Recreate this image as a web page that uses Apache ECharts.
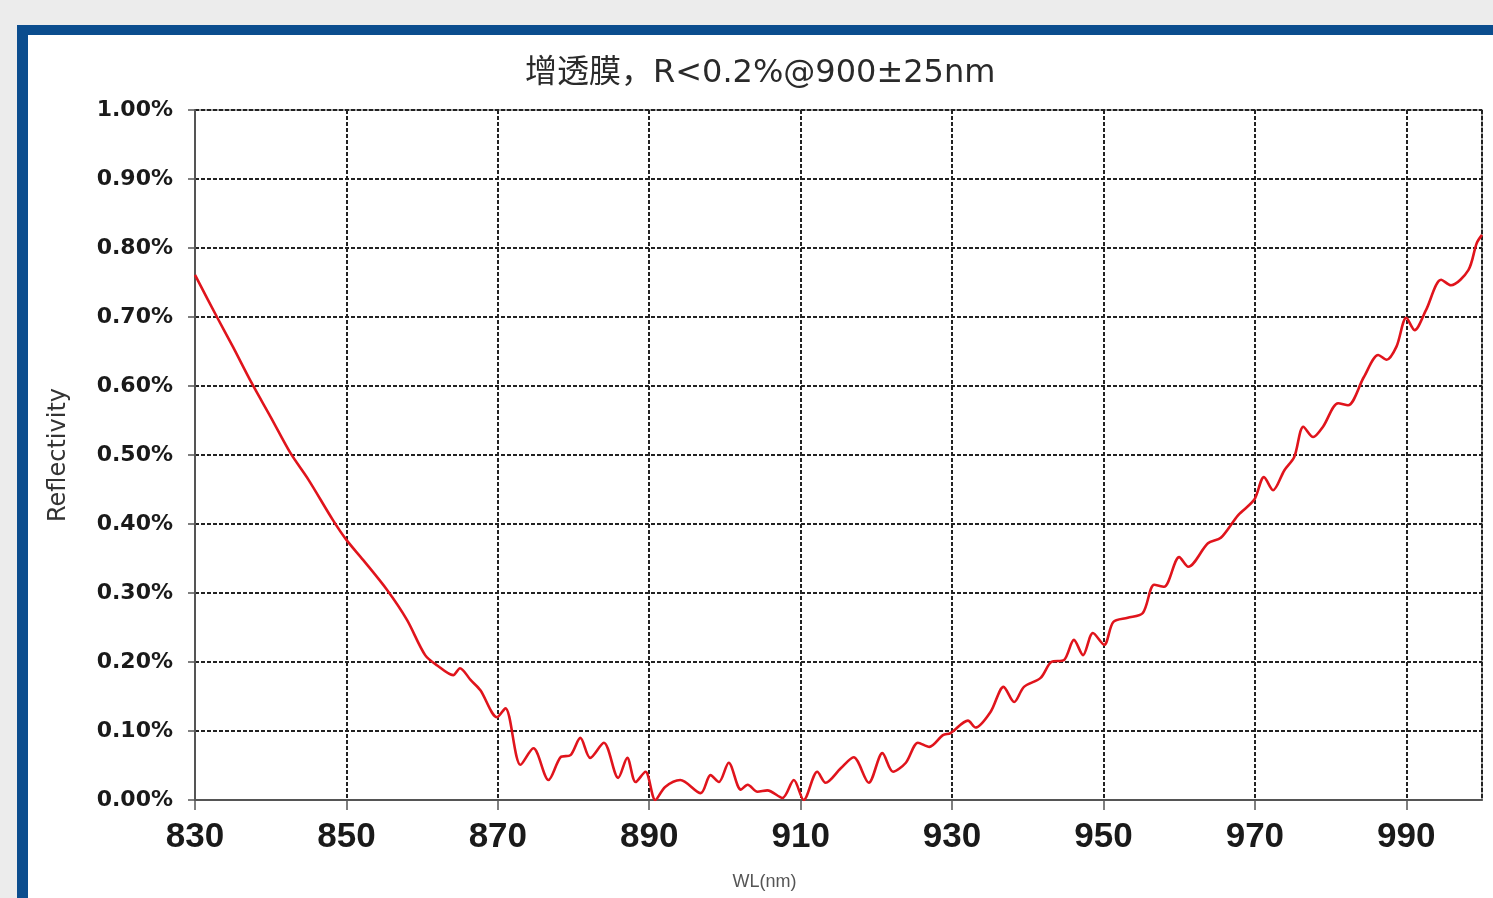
<!DOCTYPE html>
<html>
<head>
<meta charset="utf-8">
<script src="https://cdn.jsdelivr.net/npm/echarts@6/dist/echarts.min.js"></script>
<style>
  html, body { margin: 0; padding: 0; background: #ececec; }
  #frame { position: absolute; left: 17px; top: 25px; width: 1465px; height: 863px;
           border-left: 11px solid #0b4d8e; border-top: 10px solid #0b4d8e; background: #ffffff; }
  #chart { position: absolute; left: 0; top: 0; width: 1493px; height: 898px; }
</style>
</head>
<body>
<div id="frame"></div>
<div id="chart"></div>
<script>
// Wavelength (nm)
const wavelengths = [830, 832.9, 835, 837.5, 840, 842.6, 845, 848.2, 850, 852.2, 855.4, 858, 860.4, 862, 864.1, 865, 866.4, 867.7, 869.9, 871, 873, 874.7, 876.7, 878.3, 879.6, 880.9, 882.2, 884, 885.9, 887.1, 888.2, 889.5, 890.8, 892.1, 894.1, 896.8, 898.1, 899.2, 900.5, 902.1, 903, 904.3, 905.6, 907.6, 909.1, 910.4, 912.2, 913.3, 915.3, 917, 919, 920.8, 922.2, 923.9, 925.5, 927, 928.8, 929.8, 932.1, 933.1, 935.1, 936.8, 938.2, 939.5, 941.7, 943.1, 944.8, 946.1, 947.3, 948.6, 950.1, 951.3, 953.2, 955.2, 956.7, 958, 960, 961.2, 963.8, 965.5, 967.8, 969.9, 971.2, 972.4, 973.9, 975.2, 976.4, 977.7, 979, 981, 982.3, 984.4, 986.3, 987.4, 988.7, 990, 991.1, 992.6, 994.6, 995.9, 998.2, 999.3, 1000];
// Reflectivity (%)
const reflectivity = [0.761, 0.70, 0.657, 0.604, 0.555, 0.503, 0.464, 0.406, 0.377, 0.348, 0.304, 0.261, 0.21, 0.195, 0.181, 0.191, 0.174, 0.159, 0.12, 0.133, 0.051, 0.075, 0.029, 0.062, 0.065, 0.09, 0.061, 0.083, 0.032, 0.061, 0.026, 0.041, 0.0, 0.019, 0.029, 0.01, 0.036, 0.026, 0.054, 0.015, 0.022, 0.012, 0.014, 0.003, 0.029, 0.0, 0.041, 0.025, 0.046, 0.062, 0.025, 0.068, 0.041, 0.054, 0.083, 0.077, 0.094, 0.097, 0.115, 0.105, 0.128, 0.164, 0.142, 0.164, 0.177, 0.2, 0.203, 0.232, 0.21, 0.242, 0.225, 0.258, 0.264, 0.271, 0.312, 0.309, 0.352, 0.338, 0.372, 0.38, 0.413, 0.435, 0.468, 0.449, 0.478, 0.497, 0.541, 0.526, 0.541, 0.575, 0.572, 0.613, 0.645, 0.638, 0.657, 0.699, 0.681, 0.71, 0.754, 0.746, 0.768, 0.807, 0.819];

const titleText = '增透膜，R<0.2%@900±25nm';
const xName = 'WL(nm)';
const yName = 'Reflectivity';

const seriesData = wavelengths.map((w, i) => [w, reflectivity[i]]);

const chart = echarts.init(document.getElementById('chart'), null, { renderer: 'canvas' });
chart.setOption({
  backgroundColor: 'transparent',
  animation: false,
  title: {
    text: titleText,
    left: 525, top: 58, padding: 0,
    textStyle: { fontFamily: 'DejaVu Sans, "Noto Sans CJK SC"', fontSize: 32, fontWeight: 'normal', color: '#2a2a2a' }
  },
  grid: { left: 195, right: 11, top: 110, bottom: 98, show: true, borderColor: '#888', borderWidth: 1.5, backgroundColor: 'transparent' },
  xAxis: {
    type: 'value', min: 830, max: 1000, interval: 20,
    name: xName, nameLocation: 'middle', nameGap: 73,
    nameTextStyle: { fontFamily: 'Liberation Sans Narrow, Liberation Sans', fontSize: 18, color: '#555', padding: [0, 148, 0, 0] },
    axisLine: { show: true, lineStyle: { color: '#555', width: 2 } },
    axisTick: { show: true, length: 10, lineStyle: { color: '#555', width: 1.5 } },
    axisLabel: { showMaxLabel: false, margin: 20, fontFamily: 'Liberation Sans Narrow, Liberation Sans', fontWeight: 'bold', fontSize: 35, color: '#1a1a1a' },
    splitLine: { show: true, lineStyle: { color: '#222', type: [4, 2], width: 2 } }
  },
  yAxis: {
    type: 'value', min: 0, max: 1, interval: 0.1,
    name: yName, nameLocation: 'middle', nameRotate: 90, nameGap: 124,
    nameTextStyle: { fontFamily: 'DejaVu Sans', fontSize: 24, color: '#333' },
    axisLine: { show: true, lineStyle: { color: '#555', width: 2 } },
    axisTick: { show: true, length: 7, lineStyle: { color: '#555', width: 1.5 } },
    axisLabel: { margin: 22, fontFamily: 'DejaVu Sans', fontWeight: 'bold', fontSize: 22, color: '#1a1a1a',
                 formatter: v => v.toFixed(2) + '%' },
    splitLine: { show: true, lineStyle: { color: '#222', type: [4, 2], width: 2 } }
  },
  series: [{
    type: 'line', data: seriesData, showSymbol: false, smooth: 0.3,
    lineStyle: { color: '#e0141c', width: 2.6 }
  }]
});
</script>
</body>
</html>
